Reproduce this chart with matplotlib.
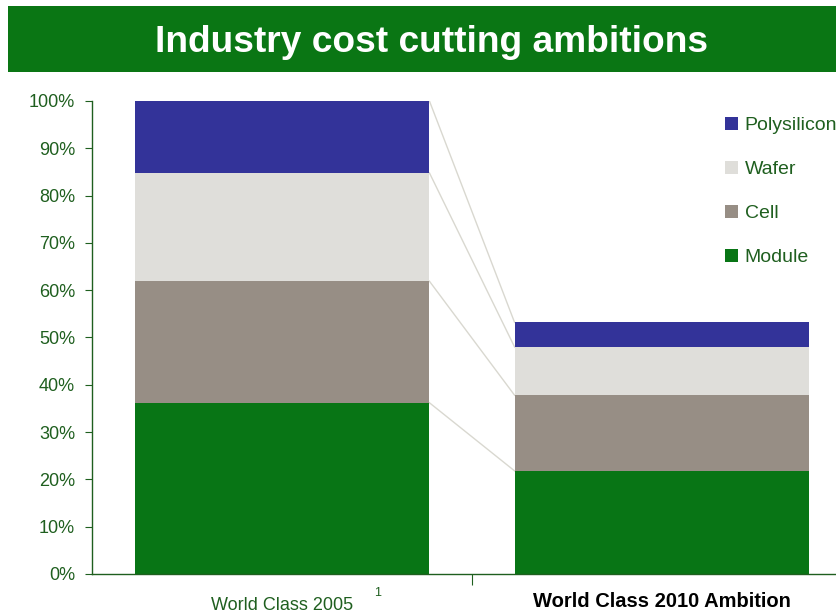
import matplotlib
matplotlib.use("Agg")
import matplotlib.pyplot as plt
from matplotlib.patches import Rectangle, Patch

plt.rcParams['font.family'] = ['Liberation Sans', 'DejaVu Sans']

categories = ["World Class 2005", "World Class 2010 Ambition"]
series = ["Module", "Cell", "Wafer", "Polysilicon"]
module = [36.2, 21.8]
cell = [25.7, 16.0]
wafer = [22.9, 10.2]
polysilicon = [15.2, 5.2]
yticks = [0, 10, 20, 30, 40, 50, 60, 70, 80, 90, 100]
title = "Industry cost cutting ambitions"

colors = {"Module": "#087515", "Cell": "#978e85", "Wafer": "#dfdeda", "Polysilicon": "#333399"}
green_text = "#1f5f1f"

fig = plt.figure(figsize=(8.36, 6.16), dpi=100)
# title banner
fig.patches.append(Rectangle((8/836, 1-72/616), 1-8/836, 66/616, transform=fig.transFigure,
                             facecolor="#0a7614", edgecolor="none", zorder=0))
fig.text(431.5/836, 1-52/616, title, color="white", fontsize=26.7, fontweight="bold",
         ha="center", va="baseline")

ax = fig.add_axes([92/836, 42/616, 760/836, 473/616])
x = [0, 1]
width = 0.776
data = {"Module": module, "Cell": cell, "Wafer": wafer, "Polysilicon": polysilicon}
bottom = [0, 0]
tops = []
for s in series:
    vals = data[s]
    ax.bar(x, vals, width=width, bottom=bottom, color=colors[s], edgecolor="none", zorder=2)
    bottom = [b + v for b, v in zip(bottom, vals)]
    tops.append(list(bottom))

# connector lines
for t in tops:
    ax.plot([x[0] + width/2, x[1] - width/2], [t[0], t[1]], color="#d9d8d0", lw=1, zorder=1)

ax.set_xlim(-0.5, 1.5)
ax.set_ylim(0, 100)
ax.set_yticks(yticks)
ax.set_yticklabels([f"{v}%" for v in yticks])
ax.set_xticks([0.5])
ax.set_xticklabels([""])
ax.tick_params(axis="y", colors=green_text, labelsize=13, length=5, direction="out", pad=7.2)
ax.tick_params(axis="x", colors=green_text, length=8, direction="out")
for sp in ["top", "right"]:
    ax.spines[sp].set_visible(False)
for sp in ["left", "bottom"]:
    ax.spines[sp].set_color(green_text)
    ax.spines[sp].set_linewidth(1)

# category labels
ax.text(x[0], -6.6, categories[0], color=green_text, fontsize=13, ha="center", va="center",
        clip_on=False)
ax.text(x[1], -5.9, categories[1], color="black", fontsize=14.5, fontweight="bold",
        ha="center", va="center", clip_on=False)
fig.text(378/836, 1-593/616, "1", color=green_text, fontsize=9, ha="center", va="center")

handles = [Patch(facecolor=colors[s], edgecolor="none", label=s) for s in reversed(series)]
fig.legend(handles=handles, loc="upper left", bbox_to_anchor=(725/836, 1-117/616),
           frameon=False, fontsize=14, labelcolor=green_text, handlelength=0.67,
           handleheight=0.67, handletextpad=0.35, labelspacing=1.36, borderaxespad=0,
           borderpad=0)

fig.savefig("out.png", dpi=100)
